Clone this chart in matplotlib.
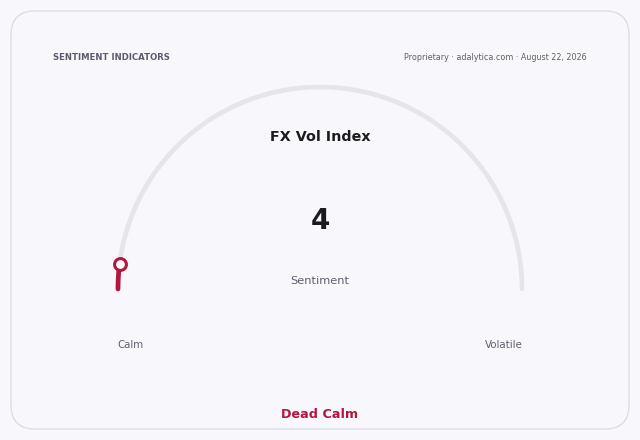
import numpy as np
import matplotlib
matplotlib.use("Agg")
import matplotlib.pyplot as plt
from matplotlib.patches import FancyBboxPatch

plt.rcParams['font.family'] = ['DejaVu Sans']

# Datos del indicador
titulo = "FX Vol Index"
valor = 4
v_min, v_max = 0, 100
etiqueta_izq = "Calm"
etiqueta_der = "Volatile"
estado = "Dead Calm"
encabezado = "SENTIMENT INDICATORS"
fuente = "Proprietary · adalytica.com · August 22, 2026"

# Colores
fondo = "#f8f8fc"
borde = "#dedde8"
pista = "#e6e5ec"
rojo = "#b3163f"
gris_txt = "#5f5f6e"

fig = plt.figure(figsize=(6.4, 4.4), dpi=100)
fig.patch.set_facecolor(fondo)
ax = fig.add_axes([0, 0, 1, 1])
ax.set_xlim(0, 640)
ax.set_ylim(440, 0)
ax.axis("off")

# Tarjeta
tarjeta = FancyBboxPatch((11, 11), 618, 418, boxstyle="round,pad=0,rounding_size=24",
                         facecolor=fondo, edgecolor=borde, linewidth=1.0)
ax.add_patch(tarjeta)

# Geometria del medidor (pixeles)
cx, cy, R = 320, 289, 202

def punto(v):
    ang = np.pi * (1 - (v - v_min) / (v_max - v_min))
    return cx + R * np.cos(ang), cy - R * np.sin(ang)

# Pista gris
th = np.linspace(np.pi, 0, 300)
ax.plot(cx + R * np.cos(th), cy - R * np.sin(th), color=pista, lw=3.4,
        solid_capstyle="round", zorder=2)

# Arco de valor
th_v = np.linspace(np.pi, np.pi * (1 - (valor - v_min) / (v_max - v_min)), 50)
ax.plot(cx + R * np.cos(th_v), cy - R * np.sin(th_v), color=rojo, lw=3.4,
        solid_capstyle="round", zorder=3)
px, py = punto(valor)
ax.plot(px, py, "o", ms=8.5, mfc="white", mec=rojo, mew=2.2, zorder=4)

# Textos
ax.text(53, 57, encabezado, fontsize=6.1, fontweight="bold", color="#5a5a70",
        ha="left", va="center")
ax.text(587, 57, fuente, fontsize=5.8, color=gris_txt, ha="right", va="center")
ax.text(320, 137, titulo, fontsize=10.3, fontweight="bold", color="#1a1a1f",
        ha="center", va="center")
ax.text(320, 221, str(valor), fontsize=20, fontweight="bold", color="#1a1a1f",
        ha="center", va="center")
ax.text(320, 281, "Sentiment", fontsize=8.2, color=gris_txt, ha="center", va="center")
ax.text(130, 345, etiqueta_izq, fontsize=7.4, color=gris_txt, ha="center", va="center")
ax.text(504, 345, etiqueta_der, fontsize=7.4, color=gris_txt, ha="center", va="center")
ax.text(320, 414, estado, fontsize=9.2, fontweight="bold", color=rojo,
        ha="center", va="center")

fig.savefig("out.png", dpi=100, facecolor=fondo)
